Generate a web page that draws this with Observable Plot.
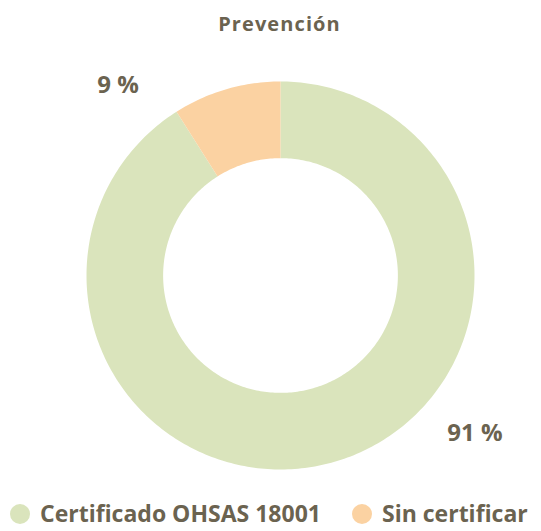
<!DOCTYPE html>
<html>
<head>
<meta charset="utf-8">
<script src="https://cdn.jsdelivr.net/npm/d3@7"></script>
<script src="https://cdn.jsdelivr.net/npm/@observablehq/plot@0.6"></script>
<style>
  html, body { margin: 0; padding: 0; background: #fff; }
  body { width: 541px; height: 531px; overflow: hidden; font-family: "Open Sans", sans-serif; color: #6b6350; }
  #title { height: 42px; padding-top: 2px; line-height: 44px; text-align: center; font-weight: 700; font-size: 20px; letter-spacing: 1.1px; padding-left: 18px; }
  #chart svg { display: block; }
  #legend { position: relative; height: 41px; font-weight: 700; font-size: 23px; }
  .item { position: absolute; top: 12px; height: 23px; line-height: 23px; display: flex; align-items: center; white-space: nowrap; }
  .sw { width: 20px; height: 20px; border-radius: 50%; margin-right: 10px; margin-top: 1px; }
</style>
</head>
<body>
<div id="title"></div>
<div id="chart"></div>
<div id="legend"></div>
<script>
const title = "Prevención";
const categories = ["Certificado OHSAS 18001", "Sin certificar"];
const values = [91, 9];
const labels = ["91 %", "9 %"];
const colors = ["#dae4bc", "#fbd2a2"];

document.getElementById("title").textContent = title;

const W = 541, H = 446;
const R = 194;              // outer radius in px
const inner = 0.605;        // inner radius ratio
const cx = 280, cy = 231;   // centre in svg px

// build slice polygons from values (clockwise from 12 o'clock)
const total = d3.sum(values);
const slices = [];
let start = 0;
values.forEach((v, i) => {
  const a0 = start / total * 2 * Math.PI;
  const a1 = (start + v) / total * 2 * Math.PI;
  const n = Math.max(4, Math.ceil((a1 - a0) / (Math.PI / 180)));
  for (let k = 0; k <= n; k++) {
    const a = a0 + (a1 - a0) * k / n;
    slices.push({cat: categories[i], x: Math.sin(a), y: Math.cos(a)});
  }
  for (let k = n; k >= 0; k--) {
    const a = a0 + (a1 - a0) * k / n;
    slices.push({cat: categories[i], x: inner * Math.sin(a), y: inner * Math.cos(a)});
  }
  start += v;
});

// label placement (angle in degrees clockwise from top, radius in outer-radius units)
const labelPos = [{angle: 129, r: 1.29}, {angle: -40.5, r: 1.29}];
const labelData = labels.map((t, i) => ({
  text: t,
  x: labelPos[i].r * Math.sin(labelPos[i].angle * Math.PI / 180),
  y: labelPos[i].r * Math.cos(labelPos[i].angle * Math.PI / 180)
}));

const chart = Plot.plot({
  width: W, height: H,
  margin: 0,
  x: {domain: [-cx / R, (W - cx) / R], axis: null},
  y: {domain: [-(H - cy) / R, cy / R], axis: null},
  color: {domain: categories, range: colors},
  marks: [
    Plot.line(slices, {x: "x", y: "y", z: "cat", fill: "cat", stroke: "none", curve: "linear"}),
    Plot.text(labelData, {x: "x", y: "y", text: "text", fill: "#6b6350", fontSize: 24, fontWeight: 700, fontFamily: "Open Sans"})
  ]
});
document.getElementById("chart").appendChild(chart);

const legendX = [10, 352];
const legend = document.getElementById("legend");
categories.forEach((c, i) => {
  const it = document.createElement("div");
  it.className = "item";
  it.style.left = legendX[i] + "px";
  const sw = document.createElement("div");
  sw.className = "sw";
  sw.style.background = colors[i];
  const tx = document.createElement("span");
  tx.textContent = c;
  it.appendChild(sw); it.appendChild(tx);
  legend.appendChild(it);
});
</script>
</body>
</html>
